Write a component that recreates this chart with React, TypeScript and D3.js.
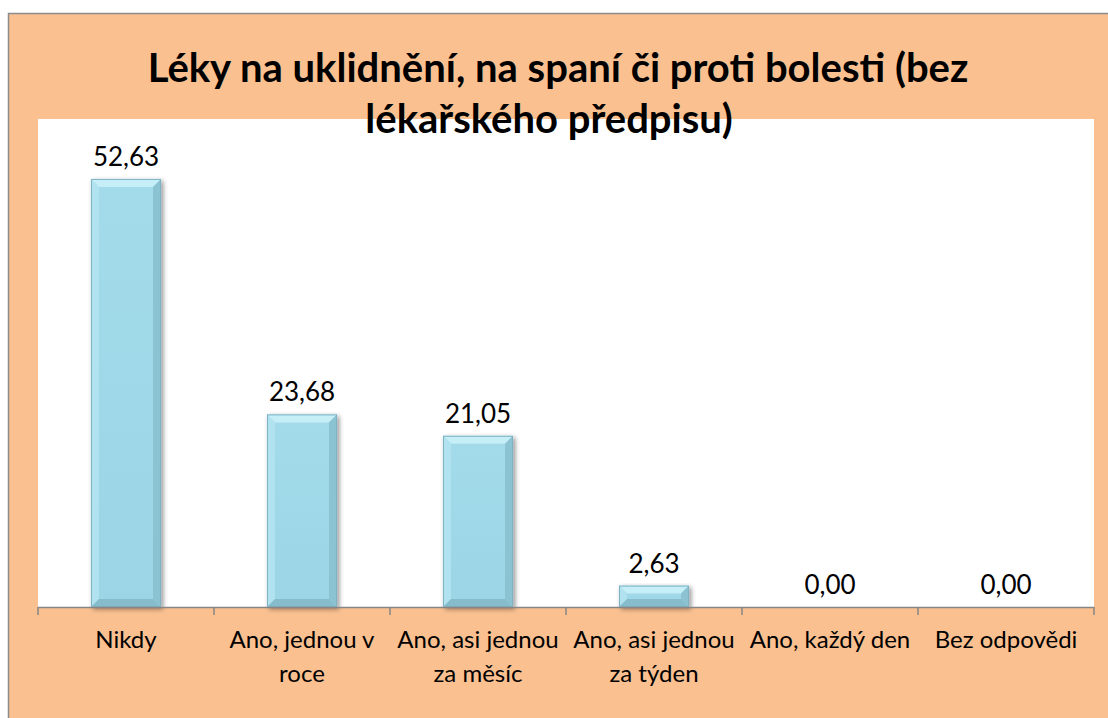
import React from "react";
import * as d3 from "d3";

const categories = [
  "Nikdy",
  "Ano, jednou v roce",
  "Ano, asi jednou za měsíc",
  "Ano, asi jednou za týden",
  "Ano, každý den",
  "Bez odpovědi",
];
const values = [52.63, 23.68, 21.05, 2.63, 0.0, 0.0];
const titleLines = ["Léky na uklidnění, na spaní či proti bolesti (bez", "lékařského předpisu)"];

const W = 1108;
const H = 718;
const FONT = "Lato, 'Open Sans', sans-serif";
const CAT_SIZE = 24;

function wrap(text: string, maxW: number): string[] {
  const c = document.createElement("canvas").getContext("2d");
  if (!c) return [text];
  c.font = `${CAT_SIZE}px Lato`;
  const words = text.split(" ");
  const lines: string[] = [];
  let cur = "";
  for (const w of words) {
    const t = cur ? cur + " " + w : w;
    if (c.measureText(t).width > maxW && cur) {
      lines.push(cur);
      cur = w;
    } else cur = t;
  }
  if (cur) lines.push(cur);
  return lines;
}

export default function App() {
  const plot = { x0: 38, x1: 1094, y0: 119, y1: 607 };
  const x = d3
    .scaleBand<string>()
    .domain(categories)
    .range([plot.x0, plot.x1])
    .paddingInner(0.602)
    .paddingOuter(0.301);
  const y = d3.scaleLinear().domain([0, 60]).range([plot.y1, plot.y0]);
  const step = x.step();
  const fmt = (v: number) => v.toFixed(2).replace(".", ",");
  const ticks = d3.range(categories.length + 1).map((i) => plot.x0 + i * step);

  return (
    <svg
      width={W}
      height={H}
      style={{ position: "absolute", left: 0, top: 0 }}
      fontFamily={FONT}
    >
      <defs>
        <filter id="sh" x="-20%" y="-20%" width="150%" height="150%">
          <feGaussianBlur in="SourceAlpha" stdDeviation="2.5" />
          <feOffset dx="2" dy="2" result="b" />
          <feComponentTransfer>
            <feFuncA type="linear" slope="0.45" />
          </feComponentTransfer>
          <feMerge>
            <feMergeNode />
            <feMergeNode in="SourceGraphic" />
          </feMerge>
        </filter>
        <linearGradient id="face" x1="0" y1="0" x2="0" y2="1">
          <stop offset="0" stopColor="#a3dbea" />
          <stop offset="1" stopColor="#9bd5e6" />
        </linearGradient>
      </defs>
      <rect x={8.5} y={13.5} width={W} height={H} fill="#fac090" stroke="#8c8c8c" strokeWidth={1.5} />
      <rect x={plot.x0} y={plot.y0} width={plot.x1 - plot.x0} height={plot.y1 - plot.y0} fill="#ffffff" />
      {titleLines.map((t, i) => (
        <text
          key={i}
          x={i === 0 ? 558 : 549}
          y={82 + i * 51}
          textAnchor="middle"
          fontSize={40}
          fontWeight="bold"
          fill="#000"
        >
          {t}
        </text>
      ))}
      {categories.map((c, i) => {
        const v = values[i];
        const bx = x(c)!;
        const bw = x.bandwidth();
        const top = y(v);
        const bot = y(0);
        const h = bot - top;
        const b = Math.min(8, h / 2.6);
        return (
          <g key={c}>
            {h > 0 && (
              <g filter="url(#sh)">
                <rect x={bx} y={top} width={bw} height={h} fill="url(#face)" />
                <polygon
                  points={`${bx},${top} ${bx + bw},${top} ${bx + bw - b},${top + b} ${bx + b},${top + b}`}
                  fill="#c6eef7"
                />
                <polygon
                  points={`${bx},${top} ${bx + b},${top + b} ${bx + b},${bot - b} ${bx},${bot}`}
                  fill="#b0e2ef"
                />
                <polygon
                  points={`${bx + bw},${top} ${bx + bw - b},${top + b} ${bx + bw - b},${bot - b} ${bx + bw},${bot}`}
                  fill="#8cc3d3"
                />
                <polygon
                  points={`${bx},${bot} ${bx + b},${bot - b} ${bx + bw - b},${bot - b} ${bx + bw},${bot}`}
                  fill="#86bccc"
                />
                <rect x={bx + 0.5} y={top + 0.5} width={bw - 1} height={h - 1} fill="none" stroke="#7fb3c2" strokeWidth={1} />
              </g>
            )}
            <text x={bx + bw / 2} y={top - 13} textAnchor="middle" fontSize={26} fill="#000">
              {fmt(v)}
            </text>
          </g>
        );
      })}
      <line x1={plot.x0} x2={plot.x1} y1={plot.y1 + 0.5} y2={plot.y1 + 0.5} stroke="#868686" strokeWidth={1.5} />
      {ticks.map((t, i) => (
        <line key={i} x1={t} x2={t} y1={plot.y1} y2={plot.y1 + 8} stroke="#868686" strokeWidth={1.5} />
      ))}
      {categories.map((c) => {
        const lines = wrap(c, step - 4);
        return (
          <text key={c} textAnchor="middle" fontSize={CAT_SIZE} fill="#000">
            {lines.map((l, j) => (
              <tspan key={j} x={x(c)! + x.bandwidth() / 2} y={648 + j * 34}>
                {l}
              </tspan>
            ))}
          </text>
        );
      })}
    </svg>
  );
}
